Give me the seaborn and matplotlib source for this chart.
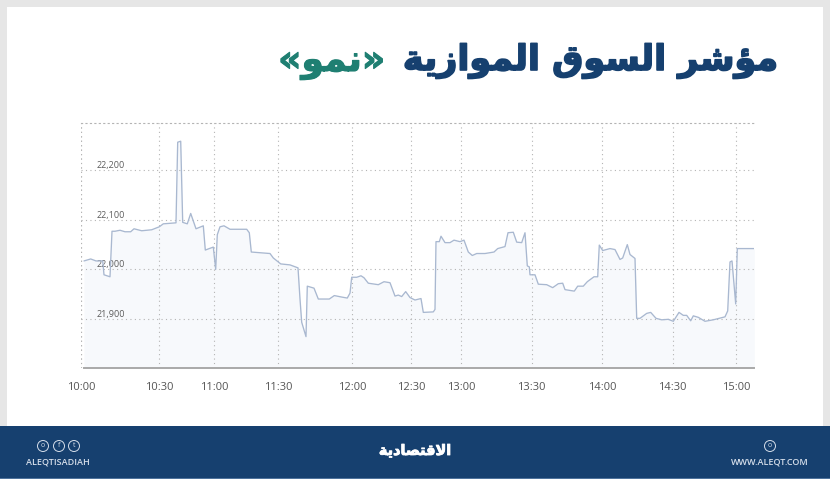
import matplotlib
matplotlib.use("Agg")
import matplotlib.pyplot as plt
import matplotlib.patheffects as pe
import pandas as pd
import seaborn as sns
from matplotlib.patches import Circle, Rectangle

# ---------------------- DATA ----------------------
# x axis is ordinal (trading samples), so the half hours are not evenly spaced
sample_pos = [3, 9.7, 15, 21.7, 23, 29, 31, 34, 39, 44, 49.7, 53, 60.7, 70.7, 78.3, 82.3, 89, 95,
              96.7, 99.7, 101.7, 106.3, 109.7, 115, 122.3, 124.3, 132.3, 134.7, 136.3, 139, 143,
              149, 165.7, 168.3, 170.3, 189, 192.3, 199.7, 209, 217, 219, 220.7, 225, 226.3, 233,
              237.3, 248.3, 253.3, 260.7, 266.3, 269, 270.7, 275.7, 280, 283, 287.3, 297.3, 303,
              309, 314, 317.3, 320.7, 324.7, 329, 334, 340, 342.3, 352.3, 354, 355, 358.3, 360,
              364, 369, 373, 379, 383, 387.3, 391.3, 395.7, 404, 413, 416.7, 424, 427, 432.3,
              435.7, 440.7, 444, 446.3, 448.3, 449, 454, 457.3, 465.7, 471.7, 477.3, 481.7, 484,
              493.3, 496.7, 502.3, 506.3, 513, 516.7, 518.3, 521.7, 529, 534, 539, 541.7, 546.3,
              549, 554, 555.7, 559, 565.7, 569.7, 575, 580.7, 587.3, 592.3, 598, 602.3, 605.7,
              609.7, 612.3, 617.3, 624, 632.3, 644, 646.7, 649, 651, 654.7, 656.3, 673.3]
index_values = [22017, 22021, 22017, 22017, 21989, 21985, 22077, 22077, 22079, 22076, 22076, 22082,
                22078, 22080, 22086, 22092, 22093, 22094, 22257, 22259, 22095, 22092, 22113, 22082,
                22088, 22039, 22045, 22000, 22070, 22086, 22088, 22081, 22081, 22074, 22035, 22032,
                22023, 22011, 22009, 22003, 21940, 21893, 21864, 21966, 21962, 21940, 21940, 21947,
                21944, 21942, 21952, 21984, 21984, 21987, 21983, 21972, 21969, 21975, 21973, 21946,
                21948, 21945, 21955, 21943, 21938, 21941, 21913, 21914, 21919, 22056, 22056, 22067,
                22054, 22054, 22059, 22056, 22059, 22035, 22028, 22032, 22032, 22035, 22042, 22046,
                22074, 22075, 22055, 22054, 22074, 22007, 22005, 21989, 21989, 21970, 21969, 21963,
                21971, 21972, 21959, 21956, 21966, 21966, 21975, 21985, 21985, 22049, 22038, 22042,
                22040, 22020, 22023, 22050, 22030, 22022, 21901, 21901, 21911, 21913, 21901, 21898,
                21899, 21895, 21913, 21907, 21907, 21896, 21906, 21903, 21895, 21898, 21904, 21916,
                22015, 22017, 21930, 22042, 22042]
time_labels = ["10:00", "10:30", "11:00", "11:30", "12:00", "12:30", "13:00", "13:30", "14:00", "14:30", "15:00"]
time_pos = [0, 78.3, 133.3, 197.3, 271.3, 330, 380, 450.7, 521, 591.7, 655.3]
value_ticks = [21900, 22000, 22100, 22200]
value_labels = ["21,900", "22,000", "22,100", "22,200"]

# Arabic written as presentation forms in visual order, matplotlib does no shaping
title_main = "\ufe94\ufef3\ufeaf\ufe8d\ufeee\ufee4\ufedf\ufe8d \ufed5\ufeee\ufeb4\ufedf\ufe8d \ufeae\ufeb7\ufe86\ufee3"
title_name = "\u00ab\ufeee\ufee4\ufee7\u00bb"
logo_text = "\ufe94\ufef3\ufea9\ufe8e\ufebc\ufe98\ufed7\ufefb\ufe8d"

NAVY = "#16406f"
GREEN = "#1f7f72"
FOOT = "#d5deea"
GRID = "#b4b4b4"
DOTS = (0, (1, 3))
W, H = 830, 479

df = pd.DataFrame({"pos": sample_pos, "value": index_values})

sns.set_theme(style="white", rc={"font.family": ["Open Sans", "DejaVu Sans"]})
fig = plt.figure(figsize=(W / 100, H / 100), dpi=100, facecolor="#e6e6e6")

# ---------------------- FRAME (pixel coordinates) ----------------------
bg = fig.add_axes([0, 0, 1, 1], zorder=0)
bg.set_xlim(0, W)
bg.set_ylim(H, 0)
bg.axis("off")
bg.add_patch(Rectangle((7, 7), 816, 419, fc="white", ec="none"))
bg.add_patch(Rectangle((0, 426), W, 53, fc=NAVY, ec="none"))
bg.add_patch(Rectangle((0, 478), W, 1, fc="#4f739c", ec="none"))


def heavy(color, width):
    return [pe.withStroke(linewidth=width, foreground=color)]


bg.text(778, 61, title_main, family="DejaVu Sans", weight="bold", fontsize=25.2, color=NAVY,
        ha="right", va="center", path_effects=heavy(NAVY, 1.2))
bg.text(385, 63, title_name, family="DejaVu Sans", weight="bold", fontsize=26, color=GREEN,
        ha="right", va="center", path_effects=heavy(GREEN, 0.8))
bg.text(415, 451, logo_text, family="DejaVu Sans", weight="bold", fontsize=10.4, color="white",
        ha="center", va="center", path_effects=heavy("white", 0.6))
bg.text(58, 462, "ALEQTISADIAH", fontsize=6.5, weight="semibold", color=FOOT, ha="center", va="center")
bg.text(770, 462, "WWW.ALEQT.COM", fontsize=6.5, weight="semibold", color=FOOT, ha="center", va="center")

for cx, glyph in [(43, "o"), (59, "f"), (74, "t"), (770, "o")]:
    bg.add_patch(Circle((cx, 446), 5.5, fc="none", ec=FOOT, lw=0.7))
    bg.text(cx, 445.5, glyph, fontsize=5, color=FOOT, ha="center", va="center")

# ---------------------- CHART ----------------------
ax = fig.add_axes([81 / W, 1 - 368.3 / H, 673.3 / W, 244.9 / H], zorder=1)
ax.patch.set_alpha(0)
ax.fill_between(df["pos"], df["value"], 21800, color="#f7f9fc", lw=0, zorder=0.1)
sns.lineplot(data=df, x="pos", y="value", color="#a9b8d0", linewidth=0.95, errorbar=None, ax=ax)
ax.set_xlim(0, 673.3)
ax.set_ylim(21800, 22295)
ax.set_xlabel("")
ax.set_ylabel("")

ax.set_xticks(time_pos, time_labels)
ax.set_yticks(value_ticks, value_labels)
ax.grid(True, linestyle=DOTS, linewidth=0.8, color=GRID)
ax.set_axisbelow(True)
ax.tick_params(axis="x", length=4, width=0.8, color=GRID, pad=6, labelsize=8, labelcolor="#555555")
ax.tick_params(axis="y", length=0, pad=-11, labelsize=6.5, labelcolor="#5c5c5c")
for tick in ax.xaxis.get_major_ticks():
    tick.tick1line.set_linestyle(DOTS)
for label in ax.get_yticklabels():
    label.set_ha("left")
    label.set_va("bottom")

for side in ["left", "right"]:
    ax.spines[side].set_visible(False)
ax.spines["top"].set_linestyle(DOTS)
ax.spines["top"].set_linewidth(0.8)
ax.spines["top"].set_color(GRID)
ax.spines["bottom"].set_color("#a9a9a9")
ax.spines["bottom"].set_linewidth(1.4)
ax.spines["bottom"].set_bounds(3, 673.3)
ax.axvline(0, linestyle=DOTS, linewidth=0.8, color=GRID, zorder=0.5)

fig.savefig("out.png", dpi=100, facecolor=fig.get_facecolor())
